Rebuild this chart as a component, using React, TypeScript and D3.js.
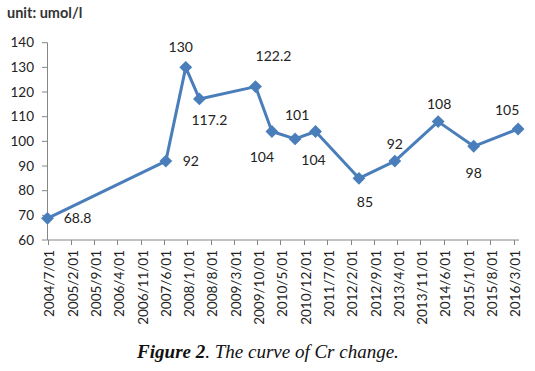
import React, { useEffect, useRef } from 'react';
import * as d3 from 'd3';

// Cr measurements (umol/l) by visit date
const visitDates = [
  '2004/7/01', '2007/6/18', '2007/12/17', '2008/4/20', '2009/9/15', '2010/2/12',
  '2010/9/12', '2011/3/18', '2012/4/18', '2013/3/12', '2014/4/12', '2015/3/03', '2016/4/12',
];
const crValues = [68.8, 92, 130, 117.2, 122.2, 104, 101, 104, 85, 92, 108, 98, 105];
const valueLabels = ['68.8', '92', '130', '117.2', '122.2', '104', '101', '104', '85', '92', '108', '98', '105'];

const xTickLabels = [
  '2004/7/01', '2005/2/01', '2005/9/01', '2006/4/01', '2006/11/01', '2007/6/01', '2008/1/01',
  '2008/8/01', '2009/3/01', '2009/10/01', '2010/5/01', '2010/12/01', '2011/7/01', '2012/2/01',
  '2012/9/01', '2013/4/01', '2013/11/01', '2014/6/01', '2015/1/01', '2015/8/01', '2016/3/01',
];
const yTicks = [60, 70, 80, 90, 100, 110, 120, 130, 140];

// where each data label sits relative to its marker (dx, dy in px)
const labelOffsets: [number, number][] = [
  [30, 0], [25, 0], [-5, -20], [10, 21], [18, -30], [-10, 26],
  [2, -24], [-2, 29], [6, 24], [0, -17], [1, -18], [0, 27], [-11, -19],
];

const BLUE = '#4a7ebb';
const AXIS = '#868686';
const FONT = 'Lato, "Open Sans", sans-serif';

const App = () => {
  const svgRef = useRef<SVGSVGElement>(null);

  useEffect(() => {
    const svg = d3.select(svgRef.current);
    svg.selectAll('*').remove();

    const parse = d3.timeParse('%Y/%m/%d');
    const ticks = xTickLabels.map(t => parse(t) as Date);
    const data = visitDates.map((d, i) => ({ date: parse(d) as Date, value: crValues[i], label: valueLabels[i] }));

    const x = d3.scaleTime()
      .domain([ticks[0], ticks[ticks.length - 1]])
      .range([47.5, 513.5]);
    const y = d3.scaleLinear().domain([60, 140]).range([240, 42.7]);

    const g = svg.append('g');

    // y axis
    g.append('line')
      .attr('x1', 47.5).attr('x2', 47.5)
      .attr('y1', y(140)).attr('y2', y(60))
      .attr('stroke', AXIS).attr('stroke-width', 1);
    yTicks.forEach(t => {
      g.append('line')
        .attr('x1', 42).attr('x2', 47.5)
        .attr('y1', y(t)).attr('y2', y(t))
        .attr('stroke', AXIS);
      g.append('text')
        .attr('x', 34).attr('y', y(t)).attr('dy', '0.35em')
        .attr('text-anchor', 'end')
        .style('font-family', FONT).style('font-size', '13.5px').style('fill', '#222')
        .text(t);
    });

    // x axis
    g.append('line')
      .attr('x1', 47.5).attr('x2', 519)
      .attr('y1', 240).attr('y2', 240)
      .attr('stroke', AXIS).attr('stroke-width', 1);
    ticks.forEach((t, i) => {
      const tx = Math.round(x(t)) + 0.5;
      g.append('line')
        .attr('x1', tx).attr('x2', tx)
        .attr('y1', 240).attr('y2', 245)
        .attr('stroke', AXIS);
      g.append('text')
        .attr('transform', `translate(${x(t) + 2},250) rotate(-90)`)
        .attr('dy', '0.35em')
        .attr('text-anchor', 'end')
        .style('font-family', FONT).style('font-size', '13.5px').style('fill', '#222')
        .text(xTickLabels[i]);
    });

    // series line
    const line = d3.line<{ date: Date; value: number }>()
      .x(d => x(d.date))
      .y(d => y(d.value));
    g.append('path')
      .datum(data)
      .attr('fill', 'none')
      .attr('stroke', BLUE)
      .attr('stroke-width', 3)
      .attr('stroke-linejoin', 'round')
      .attr('d', line);

    // diamond markers
    const diamond = d3.symbol().type(d3.symbolDiamond2).size(105);
    g.selectAll('.marker')
      .data(data)
      .enter().append('path')
      .attr('class', 'marker')
      .attr('transform', d => `translate(${x(d.date)},${y(d.value)})`)
      .attr('d', diamond)
      .attr('fill', BLUE);

    // data labels
    g.selectAll('.val')
      .data(data)
      .enter().append('text')
      .attr('class', 'val')
      .attr('x', (d, i) => x(d.date) + labelOffsets[i][0])
      .attr('y', (d, i) => y(d.value) + labelOffsets[i][1])
      .attr('dy', '0.35em')
      .attr('text-anchor', 'middle')
      .style('font-family', FONT).style('font-size', '14px').style('fill', '#222')
      .text(d => d.label);

    // unit label
    svg.append('text')
      .attr('x', 7).attr('y', 18)
      .style('font-family', FONT).style('font-size', '14.5px').style('font-weight', 'bold').style('fill', '#333')
      .text('unit: umol/l');

    // caption
    const cap = svg.append('text')
      .attr('x', 268).attr('y', 358)
      .attr('text-anchor', 'middle')
      .style('font-family', '"Liberation Serif", "DejaVu Serif", serif')
      .style('font-size', '19px').style('font-style', 'italic').style('fill', '#111');
    cap.append('tspan').style('font-weight', 'bold').text('Figure 2');
    cap.append('tspan').text('. The curve of Cr change.');
  }, []);

  return (
    <svg
      ref={svgRef}
      width={535}
      height={371}
      style={{ position: 'absolute', left: 0, top: 0, background: '#fff' }}
    />
  );
};

export default App;
